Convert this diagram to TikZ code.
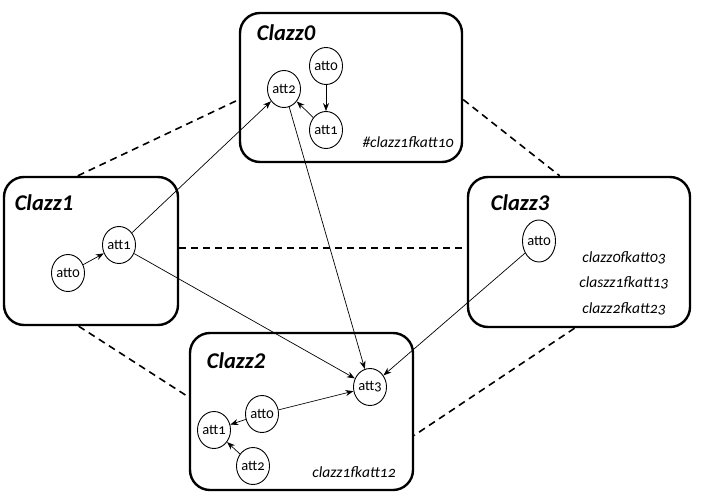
\documentclass[tikz,border=0pt]{standalone}
\usepackage{fontspec}
\setmainfont{Carlito}
\newfontfamily\attfont[Numbers=OldStyle]{Carlito}
\usetikzlibrary{arrows.meta,calc,shapes.geometric}
\tikzset{
  clazz/.style={draw,line width=2.4pt,rounded corners=20pt,inner sep=0pt},
  att/.style={draw,ellipse,line width=0.9pt,minimum width=28pt,minimum height=37pt,inner sep=0pt,font=\attfont\fontsize{14.5}{16}\selectfont},
  title/.style={font=\bfseries\itshape\fontsize{22.5}{25}\selectfont,inner sep=0pt},
  fk/.style={font=\attfont\itshape\fontsize{15.5}{17}\selectfont,inner sep=0pt},
  rel/.style={dashed,line width=1.6pt,dash pattern=on 7pt off 5pt},
  link/.style={line width=0.7pt,-{Stealth[length=8pt,width=6pt]}}
}
\begin{document}
\begin{tikzpicture}[x=1pt,y=-1pt]
\useasboundingbox (0,0) rectangle (706,495);
% class boxes
\node[clazz,minimum width=222pt,minimum height=149pt] (c0) at (351,87.5) {};
\node[clazz,minimum width=174pt,minimum height=148pt] (c1) at (91,251) {};
\node[clazz,minimum width=222pt,minimum height=150pt] (c3) at (579,252) {};
\node[clazz,minimum width=223pt,minimum height=157pt] (c2) at (301.5,411.5) {};
% titles
\node[title] (t0) at (286,33) {Clazz0};
\node[title] (t1) at (44,203) {Clazz1};
\node[title] (t3) at (520,203) {Clazz3};
\node[title] (t2) at (236,361) {Clazz2};
% fk texts
\node[fk] (f0) at (408,142) {\#clazz1fkatt10};
\node[fk] (f30) at (624,258) {clazz0fkatt03};
\node[fk] (f31) at (624,283) {claszz1fkatt13};
\node[fk] (f32) at (624,309) {clazz2fkatt23};
\node[fk] (f2) at (354,472) {clazz1fkatt12};
% attributes
\node[att] (a00) at (326,66) {att0};
\node[att] (a01) at (326,130) {att1};
\node[att] (a02) at (284,89) {att2};
\node[att] (a10) at (68,273) {att0};
\node[att] (a11) at (119,245) {att1};
\node[att,minimum height=42pt] (a30) at (539,241) {att0};
\node[att] (a23) at (370,387) {att3};
\node[att] (a20) at (262,414) {att0};
\node[att] (a21) at (214,430) {att1};
\node[att] (a22) at (253,466) {att2};
% dashed relations
\coordinate (d1a) at ($(c1.north west)!0.425!(c1.north east)$);
\coordinate (d1b) at ($(c0.north west)!0.58!(c0.south west)$);
\coordinate (d2a) at ($(c0.north east)!0.58!(c0.south east)$);
\coordinate (d2b) at ($(c3.north west)!0.414!(c3.north east)$);
\coordinate (d3a) at ($(c1.north east)!0.48!(c1.south east)$);
\coordinate (d3b) at (d3a -| c3.west);
\coordinate (d4a) at ($(c1.south west)!0.43!(c1.south east)$);
\coordinate (d4b) at ($(c2.north west)!0.41!(c2.south west)$);
\coordinate (d5a) at ($(c3.south west)!0.48!(c3.south east)$);
\coordinate (d5b) at ($(c2.north east)!0.65!(c2.south east)$);
\draw[rel] (d1a) -- (d1b);
\draw[rel] (d2a) -- (d2b);
\draw[rel] (d3a) -- (d3b);
\draw[rel] (d4a) -- (d4b);
\draw[rel] (d5a) -- (d5b);
% links
\draw[link] (a00) -- (a01);
\draw[link] (a01) -- (a02);
\draw[link] (a10) -- (a11);
\draw[link] (a11) -- (a02);
\draw[link] (a11) -- (a23);
\draw[link] (a02) -- (a23);
\draw[link] (a30) -- (a23);
\draw[link] (a20) -- (a23);
\draw[link] (a20) -- (a21);
\draw[link] (a22) -- (a21);
\end{tikzpicture}
\end{document}
